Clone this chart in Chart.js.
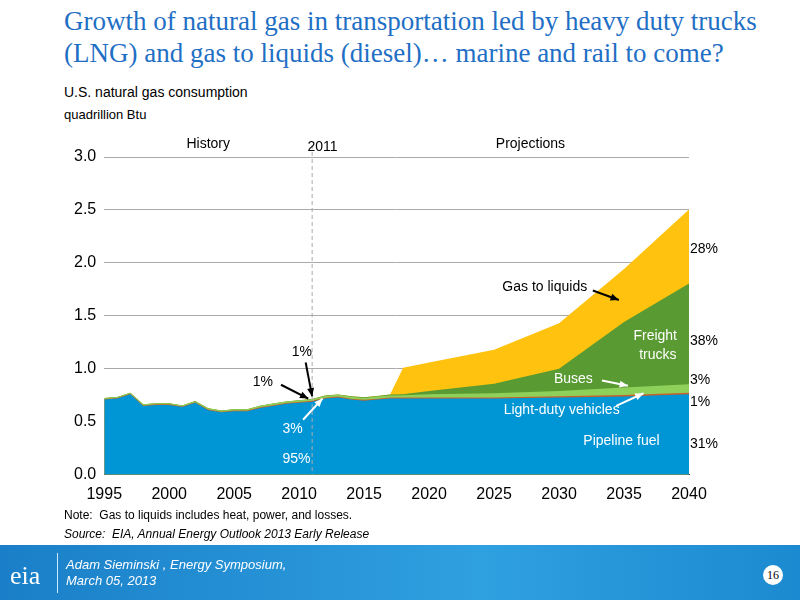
<!DOCTYPE html>
<html><head><meta charset="utf-8">
<script src="https://cdn.jsdelivr.net/npm/chart.js@4/dist/chart.umd.min.js"></script>
<style>
body{margin:0;width:800px;height:600px;position:relative;background:#fff;font-family:"Liberation Sans",Arial,sans-serif;overflow:hidden}
#title{position:absolute;left:64px;top:5px;font-family:"Liberation Serif",serif;font-size:27px;line-height:32px;color:#1f6fc5}
.sub{position:absolute;left:64px;font-size:14px;color:#000}
.note{position:absolute;left:64px;font-size:12px;color:#000}
#foot{position:absolute;left:0;top:545px;width:800px;height:55px;background:linear-gradient(90deg,#1a7fc8,#2fa0e0 60%,#1c8ad0)}
#foot .t{position:absolute;left:66px;top:12px;color:#fff;font-style:italic;font-size:13px;line-height:16px}
#foot .logo{position:absolute;left:10px;top:16px;color:#fff;font-family:"Liberation Serif",serif;font-size:26px}
#foot .bar{position:absolute;left:57px;top:8px;width:1px;height:40px;background:#cfe8f8}
#foot .pg{position:absolute;left:763px;top:20px;width:20px;height:20px;border-radius:10px;background:#fff;color:#000;font-family:"Liberation Serif",serif;font-size:12px;text-align:center;line-height:20px}
#c{position:absolute;left:0;top:130px}
</style></head><body>
<div id="title">Growth of natural gas in transportation led by heavy duty trucks<br>(LNG) and gas to liquids (diesel)… marine and rail to come?</div>
<div class="sub" style="top:84px">U.S. natural gas consumption</div>
<div class="sub" style="top:107px;font-size:13px">quadrillion Btu</div>
<canvas id="c" width="800" height="380"></canvas>
<div class="note" style="top:508px">Note:&nbsp; Gas to liquids includes heat, power, and losses.</div>
<div class="note" style="top:527px;font-style:italic">Source:&nbsp; EIA, Annual Energy Outlook 2013 Early Release</div>
<div id="foot"><div class="logo">eia</div><div class="bar"></div><div class="t">Adam Sieminski , Energy Symposium,<br>March 05, 2013</div><div class="pg">16</div></div>
<script>
const years = [1995,1996,1997,1998,1999,2000,2001,2002,2003,2004,2005,2006,2007,2008,2009,2010,2011,2012,2013,2014,2015,2016,2017,2018,2020,2025,2030,2035,2040];
const pipeline = [0.71,0.72,0.76,0.65,0.66,0.66,0.64,0.68,0.61,0.59,0.60,0.60,0.63,0.65,0.67,0.68,0.69,0.72,0.73,0.71,0.70,0.71,0.72,0.72,0.72,0.72,0.73,0.74,0.76];
const lightDuty = [0.005,0.005,0.005,0.005,0.005,0.005,0.005,0.005,0.006,0.006,0.006,0.006,0.007,0.007,0.007,0.007,0.008,0.008,0.008,0.008,0.008,0.009,0.009,0.009,0.01,0.01,0.011,0.013,0.015];
const buses = [0.01,0.01,0.01,0.01,0.01,0.01,0.01,0.012,0.012,0.012,0.013,0.013,0.014,0.015,0.015,0.016,0.016,0.017,0.017,0.018,0.018,0.019,0.02,0.022,0.03,0.04,0.05,0.07,0.08];
const freight = [0,0,0,0,0,0,0,0,0,0,0,0,0,0,0,0,0.002,0.003,0.004,0.005,0.006,0.007,0.008,0.01,0.03,0.09,0.21,0.62,0.95];
const gasToLiquids = [0,0,0,0,0,0,0,0,0,0,0,0,0,0,0,0,0,0,0,0,0,0,0,0.25,0.27,0.32,0.43,0.50,0.70];
const yTicks = [0,0.5,1,1.5,2,2.5,3];
const xTicks = [1995,2000,2005,2010,2015,2020,2025,2030,2035,2040];

const pts = arr => years.map((y,i) => ({x:y, y:arr[i]}));
const layer = (label, arr, color) => ({label, data:pts(arr), backgroundColor:color, borderColor:color, borderWidth:0, fill:true, pointRadius:0, tension:0});

const notes = {
  id:"notes",
  afterDatasetsDraw(chart){
    const {ctx, scales:{x,y}, chartArea:a} = chart;
    ctx.save();
    ctx.strokeStyle="#aaa"; ctx.setLineDash([4,3]); ctx.lineWidth=1;
    ctx.beginPath(); ctx.moveTo(x.getPixelForValue(2011),a.top-12); ctx.lineTo(x.getPixelForValue(2011),a.bottom); ctx.stroke();
    ctx.setLineDash([]);
    ctx.font="14px 'Liberation Sans', Arial"; ctx.textBaseline="middle";
    const txt=(s,vx,vy,col,al)=>{ctx.fillStyle=col;ctx.textAlign=al||"center";ctx.fillText(s,x.getPixelForValue(vx),y.getPixelForValue(vy));};
    const arrow=(x1,y1,x2,y2,col)=>{
      const p1=[x.getPixelForValue(x1),y.getPixelForValue(y1)],p2=[x.getPixelForValue(x2),y.getPixelForValue(y2)];
      ctx.strokeStyle=col;ctx.fillStyle=col;ctx.lineWidth=2;
      ctx.beginPath();ctx.moveTo(p1[0],p1[1]);ctx.lineTo(p2[0],p2[1]);ctx.stroke();
      const an=Math.atan2(p2[1]-p1[1],p2[0]-p1[0]);
      ctx.beginPath();ctx.moveTo(p2[0],p2[1]);
      ctx.lineTo(p2[0]-9*Math.cos(an-0.4),p2[1]-9*Math.sin(an-0.4));
      ctx.lineTo(p2[0]-9*Math.cos(an+0.4),p2[1]-9*Math.sin(an+0.4));ctx.fill();
    };
    txt("History",2003,3.12,"#000"); txt("2011",2011.8,3.09,"#000"); txt("Projections",2027.8,3.12,"#000");
    txt("1%",2010.2,1.16,"#000"); arrow(2010.5,1.06,2011,0.74,"#000");
    txt("1%",2007.2,0.87,"#000"); arrow(2008.6,0.85,2010.7,0.72,"#000");
    txt("3%",2009.5,0.43,"#fff"); arrow(2010.3,0.52,2011.8,0.72,"#fff");
    txt("95%",2009.8,0.15,"#fff");
    txt("Gas to liquids",2028.9,1.77,"#000"); arrow(2032.6,1.74,2034.6,1.65,"#000");
    txt("Freight",2037.4,1.31,"#fff"); txt("trucks",2037.6,1.13,"#fff");
    txt("Buses",2031.1,0.90,"#fff"); arrow(2033.3,0.89,2035.3,0.84,"#fff");
    txt("Light-duty vehicles",2030.2,0.61,"#fff"); arrow(2034.4,0.65,2036.5,0.77,"#fff");
    txt("Pipeline fuel",2034.8,0.32,"#fff");
    ctx.textAlign="left"; ctx.fillStyle="#000";
    const rx=a.right+1;
    [["28%",2.13],["38%",1.26],["3%",0.89],["1%",0.69],["31%",0.29]].forEach(([s,v])=>ctx.fillText(s,rx,y.getPixelForValue(v)));
    ctx.restore();
  }
};

new Chart(document.getElementById("c"), {
  type:"line",
  data:{datasets:[
    layer("Pipeline fuel", pipeline, "#0096d6"),
    layer("Light-duty vehicles", lightDuty, "#c8602c"),
    layer("Buses", buses, "#8fd05a"),
    layer("Freight trucks", freight, "#5a9a32"),
    layer("Gas to liquids", gasToLiquids, "#ffc20e")
  ]},
  options:{
    responsive:false, animation:false,
    layout:{padding:{left:66,right:111,top:27,bottom:4}},
    plugins:{legend:{display:false},tooltip:{enabled:false}},
    scales:{
      x:{type:"linear",min:1995,max:2040,
        afterBuildTicks:s=>{s.ticks=xTicks.map(v=>({value:v}));},
        ticks:{callback:v=>v,color:"#000",font:{size:16,family:"'Liberation Sans', Arial"},maxRotation:0,padding:2},
        grid:{display:false,drawOnChartArea:false},border:{color:"#444",width:1}},
      y:{stacked:true,min:0,max:3,
        afterBuildTicks:s=>{s.ticks=yTicks.map(v=>({value:v}));},
        ticks:{callback:v=>v.toFixed(1),color:"#000",font:{size:16,family:"'Liberation Sans', Arial"},padding:8},
        grid:{color:"#aaa",drawTicks:false},border:{display:false}}
    }
  },
  plugins:[notes]
});
</script>
</body></html>
